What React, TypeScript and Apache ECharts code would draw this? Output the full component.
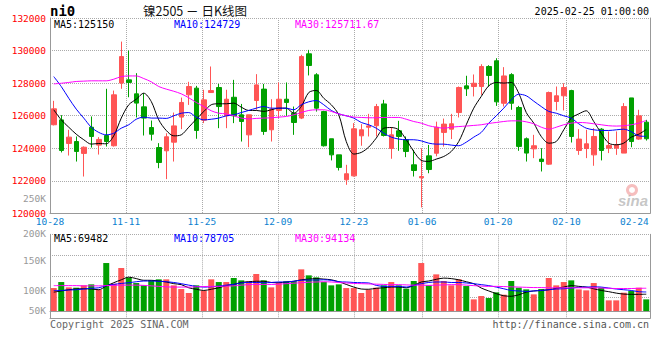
import React, { useEffect, useRef } from 'react';
import * as echarts from 'echarts';

const dates = ['10-28','10-29','10-30','10-31','11-01','11-04','11-05','11-06','11-07','11-08','11-11','11-12','11-13','11-14','11-15','11-18','11-19','11-20','11-21','11-22','11-25','11-26','11-27','11-28','11-29','12-02','12-03','12-04','12-05','12-06','12-09','12-10','12-11','12-12','12-13','12-16','12-17','12-18','12-19','12-20','12-23','12-24','12-25','12-26','12-27','12-30','12-31','01-02','01-03','01-06','01-07','01-08','01-09','01-10','01-13','01-14','01-15','01-16','01-17','01-20','01-21','01-22','01-23','01-24','01-27','02-05','02-06','02-07','02-10','02-11','02-12','02-13','02-14','02-17','02-18','02-19','02-20','02-21','02-24','02-25'];

const opens = [125440,125740,124290,124410,123680,125290,124190,124780,124150,128000,128200,127340,126540,125270,124040,123840,124370,125910,127280,127690,125720,127420,127730,125990,127130,126050,124820,126930,127630,125130,126320,127010,126150,125850,129800,128510,126250,124580,123590,122060,122300,124760,125290,125380,126720,123980,125070,124520,122980,122180,123530,123690,124970,125170,126190,127830,127790,127790,129020,129370,126760,128520,126500,124580,123960,123330,123020,126870,127220,127540,123860,123980,123590,125170,124000,124000,123700,127090,124560,125600];
const closes = [126420,123860,124680,123800,124060,124720,124540,124410,127280,129630,128040,126770,125850,124860,123120,124700,125370,126810,127790,125090,126970,127540,126560,127010,125990,125640,126050,127890,125030,126400,127010,126810,125580,129630,129080,126460,124150,123590,122820,122430,125190,125130,125370,126560,124780,124820,124720,123800,122630,122260,122690,125290,125480,125500,127730,127650,127990,129020,128470,126850,128440,126760,124110,123700,124150,123180,127420,127220,127730,124720,124560,124270,124720,123860,124170,124210,126560,124410,125990,124580];
const lows = [125400,123740,123550,123180,122260,124040,123610,124100,124100,127650,127130,125890,124780,124470,122770,122100,123180,125170,126660,124580,125540,127420,125230,125230,125540,124410,124060,126360,124820,124410,125850,125990,124820,125790,128470,126250,124100,123250,122630,121750,122260,124150,124720,124720,124720,123350,123840,123450,122260,120360,122460,123500,124100,124560,125890,127210,127180,127280,127790,126600,126560,126360,123840,123180,123390,122570,122980,126320,126320,124350,123590,123390,122920,123250,123700,123590,123700,124060,124510,124470];
const highs = [126910,126030,125130,124720,124110,125950,124680,127650,127540,130550,130000,128610,127380,125700,124310,124920,126190,127110,128080,127830,127590,129020,127950,127590,128200,126720,126050,128550,127950,127010,128040,128040,126560,129740,130040,128610,126300,124580,123590,122980,125540,125480,126110,126720,126970,125290,125680,124720,123900,124000,124200,125630,125820,126110,127790,128450,128530,129160,129100,129530,128980,128610,126600,124660,124820,124000,127480,127790,127990,127590,125170,125130,125230,125230,125030,125030,126770,127090,126360,125740];

const ma5 = [126360,125740,125290,124860,124520,124250,124290,124270,124760,125850,126670,127010,127380,126870,125740,125090,124760,124820,125290,125780,126250,126670,126730,126730,126770,126520,126320,126320,126260,126360,126460,126460,126150,126560,127420,127550,127070,126670,126050,124410,123640,123740,124070,124620,125230,125270,125130,124520,123800,123250,123190,123330,123490,123800,124410,125440,126460,127180,127830,128040,128000,128040,127380,126190,125540,124720,124310,124410,125130,125850,126110,126300,125640,124920,124310,124210,124310,124680,124860,125150];
const ma10 = [128400,127790,127070,126400,125850,125290,124970,124820,124920,125230,125440,125780,125910,125850,125850,125830,125990,126150,126190,125910,125740,125780,125850,125990,126050,126190,126320,126460,126560,126460,126460,126460,126360,126670,126850,126930,126670,126320,126110,125990,125850,125580,125440,125230,124920,124680,124560,124520,124520,124450,124310,124250,124250,124190,124150,124370,124680,124970,125540,125990,126460,126970,127320,127220,126890,126560,126260,126150,125990,125850,125500,125230,125130,125090,125090,125130,125170,125010,124760,124729];
const ma30 = [127950,127990,128040,128100,128120,128140,128140,128140,128240,128400,128440,128440,128280,128080,127790,127630,127500,127340,127100,126810,126560,126300,126150,126110,125990,125850,125800,125830,125850,125870,125910,125950,126050,126190,126320,126360,126360,126260,126110,125990,125910,125890,125870,125870,125890,125890,125890,125780,125640,125540,125380,125290,125230,125290,125330,125360,125400,125440,125520,125580,125640,125680,125680,125620,125500,125290,125170,125290,125440,125540,125580,125560,125500,125440,125380,125360,125380,125440,125540,125711.67];

const volumes = [95000,119800,97800,96400,106100,110200,88200,198300,112900,177700,137700,115700,106100,126700,130900,130900,106100,90900,74400,106100,84000,130900,119800,119800,136400,126700,122600,152900,126700,97800,115700,122600,122600,172200,147400,139100,119800,106100,110200,95000,95000,74400,88200,96400,106100,119800,106100,92300,124000,198300,106100,151500,124000,106100,130900,103300,48200,62000,53700,77100,67500,124000,96400,89500,68900,90900,136400,106100,119800,126700,89500,85400,115700,96400,44100,44100,75800,82600,96400,48200];
const volMa5 = [78000,83000,88000,91000,92000,91000,88000,103000,117000,129000,140000,134000,127000,127000,124000,120000,113000,109000,96000,90000,85000,90000,96000,105000,110000,118000,121000,123000,123000,118000,117000,120000,123000,129000,132000,134000,132000,129000,121000,110000,99000,91000,90000,94000,96000,99000,99000,96000,106000,120000,124000,131000,136000,134000,129000,121000,113000,95000,83000,72000,63000,61000,67000,78000,83000,85000,88000,94000,99000,105000,102000,99000,92000,85000,80000,74000,70000,69000,69000,69482];
const volMa10 = [85000,85000,87000,88000,91000,94000,96000,105000,110000,114000,117000,121000,124000,124000,123000,121000,118000,113000,107000,102000,99000,100000,103000,107000,110000,116000,118000,118000,117000,118000,120000,120000,123000,127000,128000,128000,129000,127000,121000,120000,118000,117000,116000,106000,102000,102000,102000,99000,106000,113000,118000,120000,120000,118000,118000,116000,113000,109000,105000,99000,92000,85000,83000,81000,83000,85000,88000,91000,92000,95000,98000,99000,100000,99000,95000,91000,88000,85000,80000,78705];
const volMa30 = [105000,105000,105000,105000,104000,104000,104000,105000,106000,107000,107000,107000,106000,104000,102000,100000,99000,99000,99000,100000,101000,102000,102000,103000,104000,107000,109000,110000,110000,110000,111000,113000,115000,117000,119000,120000,121000,120000,118000,116000,114000,113000,112000,111000,110000,109000,109000,108000,107000,107000,106000,107000,108000,109000,109000,107000,105000,103000,102000,102000,101000,100000,99000,98000,97000,97000,96000,96000,96000,96000,96000,96000,96000,95000,94000,93000,93000,93000,94000,94134];

const labelIndices = [0, 10, 20, 30, 40, 49, 59, 68, 78];
const priceMin = 120000;
const priceMax = 132000;
const priceStep = 2000;
const volLabelMax = 300000;
const volLabelStep = 50000;

const UP = '#ff5555';
const DOWN = '#00a000';
const MONO = '"DejaVu Sans Mono", "Liberation Mono", monospace';
const GRID = '#aaaaaa';
const BORDER = '#999999';
const AX_FS = 9.5;

export default function App() {
  const ref = useRef<HTMLDivElement>(null);
  useEffect(() => {
    if (!ref.current) return;
    const chart = echarts.init(ref.current, null, { renderer: 'svg' });
    const last = dates.length - 1;
    const candleData = dates.map((_, i) => [opens[i], closes[i], lows[i], highs[i]]);
    const volData = volumes.map((v, i) => ({ value: v, itemStyle: { color: closes[i] >= opens[i] ? UP : DOWN } }));
    const lineS = (name: string, data: number[], color: string, xi: number, yi: number) => ({
      name, type: 'line', data, xAxisIndex: xi, yAxisIndex: yi, symbol: 'none', showSymbol: false,
      smooth: 0.3, lineStyle: { color, width: 1 }, itemStyle: { color }, silent: true, z: 5,
    });
    const gridSplit = { show: true, interval: (i: number) => labelIndices.includes(i) && i !== 0 && i !== 78, lineStyle: { color: GRID, type: 'dotted', width: 1 } };
    const txt = (text: string, x: number, y: number, fill: string, font: string, align = 'left') => ({
      type: 'text', x, y, silent: true, z: 100,
      style: { text, fill, font, textAlign: align, textVerticalAlign: 'middle' },
    });
    const volRich = (pad: number[]) => ({ padding: pad, color: '#999999', fontFamily: MONO, fontSize: AX_FS });
    const option: any = {
      animation: false,
      backgroundColor: '#ffffff',
      grid: [
        { left: 50, right: 10, top: 18, height: 195.3, outerBoundsMode: 'none' },
        { left: 50, right: 10, top: 234.3, height: 84, outerBoundsMode: 'none' },
        { left: 50, right: 10, top: 171, height: 179, outerBoundsMode: 'none' },
      ],
      xAxis: [
        { type: 'category', gridIndex: 0, data: dates, boundaryGap: true, axisLine: { show: true, lineStyle: { color: BORDER } }, axisTick: { show: false }, axisLabel: { show: false }, splitLine: { show: false } },
        {
          type: 'category', gridIndex: 0, data: dates, boundaryGap: false, position: 'bottom', offset: 0,
          axisLine: { show: false }, axisTick: { show: false },
          axisLabel: {
            show: true, interval: (i: number) => labelIndices.includes(i),
            formatter: (v: string, i: number) => (i === 78 ? `{r|${v}}` : v),
            color: '#0a7fd0', fontFamily: MONO, fontSize: AX_FS, margin: 3,
            rich: { r: { padding: [0, 16, 0, 0], color: '#0a7fd0', fontFamily: MONO, fontSize: AX_FS } },
          },
          splitLine: gridSplit,
        },
        { type: 'category', gridIndex: 1, data: dates, boundaryGap: true, axisLine: { show: true, lineStyle: { color: BORDER } }, axisTick: { show: false }, axisLabel: { show: false }, splitLine: { show: false } },
        { type: 'category', gridIndex: 1, data: dates, boundaryGap: false, position: 'top', axisLine: { show: true, lineStyle: { color: BORDER } }, axisTick: { show: false }, axisLabel: { show: false }, splitLine: gridSplit },
        { type: 'value', gridIndex: 2, show: false, min: 0, max: 1 },
      ],
      yAxis: [
        {
          type: 'value', gridIndex: 0, min: priceMin, max: priceMax, interval: priceStep,
          axisLine: { show: true, lineStyle: { color: BORDER } }, axisTick: { show: false },
          axisLabel: { color: '#ff0000', fontFamily: MONO, fontSize: AX_FS, margin: 4, padding: [0, 0, 6, 0], formatter: (v: number) => String(v) },
          splitLine: { show: true, lineStyle: { color: GRID, type: 'dotted', width: 1 } },
        },
        { type: 'value', gridIndex: 0, position: 'right', min: 0, max: 1, axisLine: { show: true, lineStyle: { color: BORDER } }, axisTick: { show: false }, axisLabel: { show: false }, splitLine: { show: false } },
        { type: 'value', gridIndex: 1, min: -30000, max: 317000, axisLine: { show: true, lineStyle: { color: BORDER } }, axisTick: { show: false }, axisLabel: { show: false }, splitLine: { show: false } },
        { type: 'value', gridIndex: 1, position: 'right', min: 0, max: 4, interval: 1, axisLine: { show: true, lineStyle: { color: BORDER } }, axisTick: { show: false }, axisLabel: { show: false }, splitLine: { show: true, lineStyle: { color: GRID, type: 'dotted', width: 1 } } },
        {
          type: 'value', gridIndex: 2, min: 0, max: volLabelMax, interval: volLabelStep,
          axisLine: { show: false }, axisTick: { show: false }, splitLine: { show: false },
          axisLabel: {
            color: '#999999', fontFamily: MONO, fontSize: AX_FS, margin: 4,
            formatter: (v: number) => {
              if (v === 0 || v === volLabelMax) return '';
              const t = `${v / 1000}K`;
              if (v === 50000) return `{s|${t}}`;
              if (v === 200000) return `{u|${t}}`;
              if (v === 250000) return `{t|${t}}`;
              return t;
            },
            rich: { s: volRich([0, 0, 20, 0]), t: volRich([0, 0, 5, 0]), u: volRich([5, 0, 0, 0]) },
          },
        },
      ],
      series: [
        {
          name: 'K', type: 'candlestick', xAxisIndex: 0, yAxisIndex: 0, data: candleData, barWidth: 5, silent: true,
          itemStyle: { color: UP, color0: DOWN, borderColor: UP, borderColor0: DOWN, borderWidth: 1 },
        },
        lineS('MA5', ma5, '#000000', 0, 0),
        lineS('MA10', ma10, '#0000ff', 0, 0),
        lineS('MA30', ma30, '#ff00ff', 0, 0),
        { name: 'VOL', type: 'bar', xAxisIndex: 2, yAxisIndex: 2, data: volData, barWidth: 6, silent: true },
        lineS('VMA5', volMa5, '#000000', 2, 2),
        lineS('VMA10', volMa10, '#0000ff', 2, 2),
        lineS('VMA30', volMa30, '#ff00ff', 2, 2),
      ],
      graphic: [
        txt('ni0', 50, 11, '#000000', `bold 14px ${MONO}`),
        txt('镍2505 － 日K线图', 195, 10, '#111111', '12.5px "Noto Sans CJK SC", sans-serif', 'center'),
        txt('2025-02-25 01:00:00', 649, 11, '#000000', `10px ${MONO}`, 'right'),
        txt(`MA5:${ma5[last]}`, 54, 24.5, '#000000', `10px ${MONO}`),
        txt(`MA10:${ma10[last]}`, 174, 24.5, '#0000ff', `10px ${MONO}`),
        txt(`MA30:${ma30[last]}`, 295, 24.5, '#ff00ff', `10px ${MONO}`),
        txt(`MA5:${volMa5[last]}`, 54, 238.5, '#000000', `10px ${MONO}`),
        txt(`MA10:${volMa10[last]}`, 174, 238.5, '#0000ff', `10px ${MONO}`),
        txt(`MA30:${volMa30[last]}`, 295, 238.5, '#ff00ff', `10px ${MONO}`),
        txt('Copyright 2025 SINA.COM', 50, 324, '#666666', `10px ${MONO}`),
        txt('http://finance.sina.com.cn', 649, 324, '#555555', `10px ${MONO}`, 'right'),
        { type: 'ring', silent: true, z: 50, shape: { cx: 632, cy: 190, r: 6, r0: 3 }, style: { fill: 'rgba(235,110,110,0.45)' } },
        txt('sina', 648, 200, 'rgba(150,150,150,0.55)', 'italic bold 15px "Liberation Sans", sans-serif', 'right'),
      ],
    };
    chart.setOption(option);
    return () => chart.dispose();
  }, []);
  return <div ref={ref} style={{ position: 'absolute', left: 0, top: 0, width: 660, height: 360, background: '#fff' }} />;
}
